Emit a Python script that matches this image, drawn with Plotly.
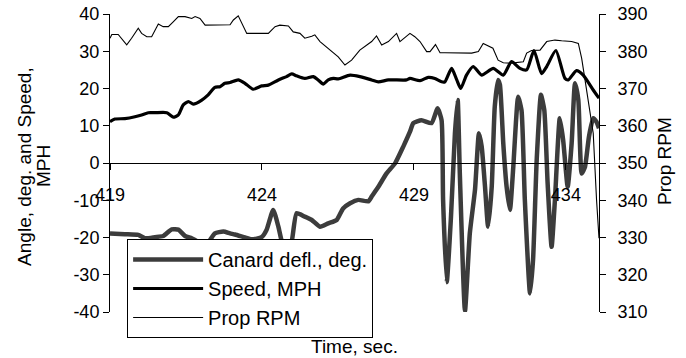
import plotly.graph_objects as go

# ---- data ----
canard_t = [419.00, 419.49, 419.93, 420.15, 420.48, 420.75, 421.03, 421.25, 421.47, 421.69,
            421.91, 422.24, 422.45, 422.73, 422.95, 423.11, 423.44, 423.66, 423.99, 424.15,
            424.37, 424.54, 424.65, 424.80, 424.98, 425.14, 425.41, 425.64, 425.91, 426.18,
            426.46, 426.67, 426.90, 427.17, 427.50, 427.61, 427.83, 428.10, 428.38, 428.65,
            428.87, 428.98, 429.25, 429.58, 429.78, 429.91, 429.96, 430.08, 430.22, 430.35,
            430.44, 430.51, 430.68, 430.84, 431.01, 431.14, 431.23, 431.34, 431.44, 431.56,
            431.66, 431.77, 431.83, 431.94, 432.05, 432.16, 432.27, 432.43, 432.54, 432.65,
            432.82, 432.92, 433.04, 433.18, 433.29, 433.40, 433.53, 433.64, 433.80, 433.91,
            434.06, 434.19, 434.30, 434.41, 434.52, 434.63, 434.76, 434.90, 435.01, 435.09]
canard_deg = [-18.9, -19.1, -19.3, -20.2, -19.9, -19.6, -17.8, -17.9, -19.6, -20.2,
              -21.1, -21.1, -18.9, -18.4, -18.9, -19.2, -20.0, -20.5, -19.9, -18.0,
              -12.6, -17.1, -21.0, -24.0, -21.0, -13.5, -14.4, -15.3, -17.1, -16.2,
              -15.3, -12.2, -10.8, -9.9, -10.3, -9.0, -6.4, -2.8, -0.1, 4.4,
              8.4, 10.7, 11.5, 10.7, 14.7, 11.5, -9.9, -32.0, -14.4, 8.0,
              16.9, -2.7, -39.7, -18.8, -7.2, 8.0, 4.4, -6.4, -17.1, -6.4,
              15.1, 22.3, 21.0, 5.3, -6.4, -12.6, -1.0, 17.8, 14.2, -9.9,
              -35.0, -26.0, 0.8, 18.3, 14.2, -5.5, -22.5, -9.9, 12.0, 6.2,
              -6.4, 5.3, 21.4, 16.9, -2.8, -1.0, 7.1, 12.0, 11.0, 9.3]

speed_t = [419.00, 419.16, 419.49, 419.82, 420.04, 420.26, 420.48, 420.87, 421.08, 421.25,
           421.41, 421.58, 421.74, 422.02, 422.23, 422.45, 422.62, 422.78, 422.95, 423.22,
           423.44, 423.71, 423.99, 424.21, 424.54, 424.81, 424.98, 425.14, 425.41, 425.69,
           425.85, 426.02, 426.18, 426.35, 426.51, 426.90, 427.22, 427.61, 427.83, 428.16,
           428.76, 428.87, 429.20, 429.47, 429.69, 429.91, 430.02, 430.24, 430.41, 430.54,
           430.73, 430.95, 431.23, 431.61, 431.94, 432.21, 432.49, 432.71, 432.95, 433.20,
           433.37, 433.67, 433.97, 434.08, 434.35, 434.57, 434.90, 435.09]
speed_mph = [11.1, 11.8, 11.9, 12.4, 12.9, 13.5, 13.5, 13.5, 12.3, 12.9,
             15.6, 16.5, 15.8, 16.9, 18.3, 20.3, 20.5, 21.4, 21.6, 22.3,
             21.4, 19.8, 20.7, 20.9, 22.3, 23.2, 23.9, 23.4, 22.7, 23.2,
             22.3, 21.2, 22.3, 22.7, 22.6, 23.6, 23.2, 22.3, 21.8, 22.3,
             22.3, 22.7, 22.1, 23.0, 22.7, 21.8, 21.8, 25.4, 22.3, 20.0,
             23.6, 25.9, 23.6, 25.4, 23.6, 27.2, 25.4, 25.0, 30.2, 24.0,
             25.9, 30.2, 22.7, 22.3, 24.8, 23.6, 19.6, 17.4]

rpm_t = [419.00, 419.06, 419.27, 419.38, 419.55, 419.71, 419.93, 420.04, 420.21, 420.37,
         420.59, 420.75, 420.92, 421.08, 421.25, 421.47, 421.69, 421.80, 421.96, 422.13,
         422.35, 422.95, 423.06, 423.22, 423.50, 424.21, 424.43, 424.59, 424.87, 425.03,
         425.25, 425.41, 425.64, 425.74, 425.91, 426.18, 426.51, 426.73, 426.95, 427.22,
         427.61, 427.77, 427.94, 428.16, 428.43, 428.54, 428.87, 429.03, 429.20, 429.42,
         429.53, 429.71, 429.86, 430.02, 430.68, 430.90, 431.12, 431.28, 431.60, 431.77,
         431.94, 432.21, 432.60, 432.71, 432.87, 433.15, 433.37, 433.64, 433.86, 434.19,
         434.41, 434.52, 434.63, 434.73, 434.90, 435.01, 435.09]
prop_rpm = [383.5, 384.5, 384.5, 383.5, 381.7, 383.5, 386.2, 384.8, 383.9, 383.9,
            387.3, 386.6, 386.6, 387.9, 389.3, 389.3, 388.8, 389.3, 388.8, 387.0,
            387.0, 387.1, 388.4, 389.5, 384.8, 384.8, 386.6, 387.0, 386.8, 385.2,
            384.8, 383.5, 384.0, 384.4, 382.6, 380.8, 378.5, 376.3, 377.6, 380.3,
            382.6, 384.1, 381.7, 382.6, 384.8, 382.6, 384.8, 383.9, 382.6, 379.9,
            379.9, 381.8, 379.6, 379.6, 379.6, 379.5, 379.9, 382.1, 380.8, 377.6,
            376.9, 376.8, 377.2, 379.5, 380.2, 380.3, 382.6, 383.0, 382.8, 382.6,
            382.1, 378.1, 372.3, 366.9, 358.0, 340.0, 329.8]

x_ticks = [419, 424, 429, 434]
left_ticks = [-40, -30, -20, -10, 0, 10, 20, 30, 40]
right_ticks = [310, 320, 330, 340, 350, 360, 370, 380, 390]

FONT = "Liberation Sans, Arial, sans-serif"

fig = go.Figure()
fig.add_trace(go.Scatter(x=canard_t, y=canard_deg, name="Canard defl., deg.", mode="lines",
                         line=dict(color="#3c3c3c", width=4.5, shape="spline", smoothing=0.5)))
fig.add_trace(go.Scatter(x=speed_t, y=speed_mph, name="Speed, MPH", mode="lines",
                         line=dict(color="#000000", width=3.2, shape="spline", smoothing=0.6)))
fig.add_trace(go.Scatter(x=rpm_t, y=prop_rpm, name="Prop RPM", mode="lines", yaxis="y2",
                         line=dict(color="#000000", width=1.1)))

fig.update_layout(
    width=686, height=358,
    margin=dict(l=110, r=87, t=14, b=46, autoexpand=False),
    paper_bgcolor="white", plot_bgcolor="white",
    font=dict(family=FONT, size=18, color="black"),
    showlegend=True,
    legend=dict(x=0.035, y=0.245, xanchor="left", yanchor="top",
                bgcolor="white", bordercolor="black", borderwidth=1,
                font=dict(family=FONT, size=20, color="black"),
                itemwidth=70, tracegroupgap=0, traceorder="normal"),
    xaxis=dict(range=[419, 435.09], tickvals=x_ticks, ticktext=[str(v) for v in x_ticks],
               anchor="free", position=0.5, showline=True, linecolor="black", linewidth=1,
               ticks="outside", ticklen=6, tickcolor="black", showgrid=False, zeroline=False,
               ticklabelstandoff=9, tickfont=dict(size=18)),
    yaxis=dict(range=[-40, 40], tickvals=left_ticks, ticktext=[str(v) for v in left_ticks],
               showline=True, linecolor="black", linewidth=1, ticks="outside", ticklen=6,
               tickcolor="black", showgrid=False, zeroline=False, tickfont=dict(size=18)),
    yaxis2=dict(range=[310, 390], tickvals=right_ticks, overlaying="y", side="right",
                anchor="x", showline=True, linecolor="black", linewidth=1, ticks="outside",
                ticklen=6, tickcolor="black", showgrid=False, zeroline=False,
                ticklabelstandoff=8, tickfont=dict(size=18)),
    annotations=[
        dict(text="Angle, deg. and Speed,", xref="paper", yref="paper", x=-0.174, y=0.49,
             textangle=-90, showarrow=False, xanchor="center", yanchor="middle",
             font=dict(family=FONT, size=19)),
        dict(text="MPH", xref="paper", yref="paper", x=-0.135, y=0.49,
             textangle=-90, showarrow=False, xanchor="center", yanchor="middle",
             font=dict(family=FONT, size=19)),
        dict(text="Prop RPM", xref="paper", yref="paper", x=1.135, y=0.507,
             textangle=-90, showarrow=False, xanchor="center", yanchor="middle",
             font=dict(family=FONT, size=19)),
        dict(text="Time, sec.", xref="paper", yref="paper", x=0.5, y=-0.116,
             showarrow=False, xanchor="center", yanchor="middle",
             font=dict(family=FONT, size=19)),
    ],
)

fig.write_html("out.html")
